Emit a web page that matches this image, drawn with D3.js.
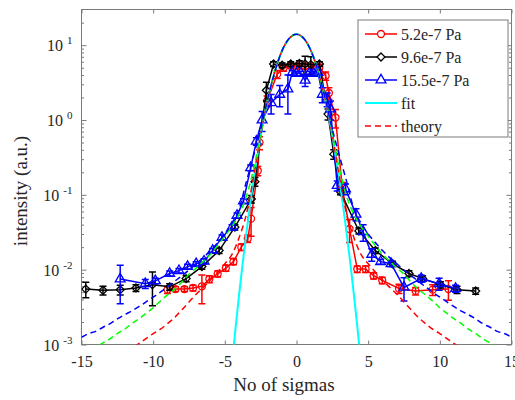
<!DOCTYPE html>
<html>
<head>
<meta charset="utf-8">
<script src="https://cdn.jsdelivr.net/npm/d3@7"></script>
<style>
body { margin: 0; background: #fff; }
svg { display: block; font-family: "Liberation Serif", "Times New Roman", serif; }
</style>
</head>
<body>
<svg id="chart" width="515" height="400"></svg>
<script>
// measured series (x in sigmas, intensity, symmetric error half-width)
const redX = [-9.0,-8.45,-7.82,-7.22,-6.6,-6.08,-5.5,-4.93,-4.4,-3.85,-3.4,-3.17,-2.7,-2.58,-2.05,-1.35,-0.9,-0.4,0.1,0.6,1.1,1.6,2.03,2.26,2.72,3.19,3.7,4.24,4.82,5.38,5.98,7.15,8.31,9.5,10.6]
const redY = [0.0054,0.0055,0.0055,0.0057,0.006,0.0075,0.0088,0.0105,0.0128,0.02,0.026,0.048,0.21,0.5,1.8,4.1,5.0,5.3,5.3,5.2,5.2,5.1,3.9,2.3,1.08,0.126,0.035,0.0102,0.0102,0.0083,0.0072,0.0056,0.0052,0.0054,0.0055]
const redErr = [0.0006,0.0004,0.0004,0.0005,0.0025,0.0008,0.0008,0.001,0.0012,0.002,0.003,0.02,0.03,0.1,0.3,0.5,0.5,0.4,0.4,0.4,0.4,0.4,0.5,0.4,0.3,0.02,0.012,0.001,0.001,0.0008,0.0007,0.0008,0.0006,0.0009,0.0016]

const blackX = [-14.7,-13.5,-12.3,-11.2,-10.05,-8.85,-7.7,-6.6,-5.4,-4.3,-3.15,-2.9,-2.1,-1.6,-1.0,-0.4,0.2,0.6,1.0,1.6,2.2,2.6,3.07,4.35,5.5,6.7,7.85,8.8,10.05,11.2,12.5]
const blackY = [0.0055,0.0053,0.0054,0.0057,0.0063,0.0059,0.0076,0.011,0.018,0.037,0.088,0.15,2.5,5.6,5.4,5.6,5.7,5.6,5.5,5.6,1.2,0.35,0.11,0.033,0.018,0.012,0.0089,0.0076,0.0063,0.0054,0.0052]
const blackErr = [0.0013,0.0007,0.0008,0.0006,0.003,0.0006,0.0007,0.0009,0.0015,0.003,0.01,0.02,0.7,0.4,0.4,0.4,0.5,1.5,1.5,0.4,0.2,0.05,0.01,0.003,0.0015,0.001,0.0008,0.0007,0.0006,0.0006,0.0005]

const blueX = [-12.3,-10.55,-9.85,-8.85,-8.2,-7.6,-7.0,-6.45,-5.85,-5.2,-4.5,-4.15,-3.7,-3.2,-2.8,-2.4,-1.77,-1.17,-0.6,-0.3,0.0,0.3,0.6,0.9,1.2,1.5,1.8,2.14,2.37,2.84,3.42,4.15,4.65,5.25,5.87,6.6,7.5,8.7,9.95,11.1]
const blueY = [0.0075,0.0065,0.0071,0.0089,0.0097,0.011,0.012,0.013,0.018,0.027,0.037,0.053,0.083,0.23,0.52,1.0,1.7,2.2,2.6,4.3,4.2,4.2,3.4,4.2,4.2,4.3,2.2,1.9,1.4,0.133,0.12,0.055,0.032,0.016,0.0128,0.012,0.0058,0.0076,0.0065,0.0056]
const blueErr = [0.004,0.0009,0.0006,0.0007,0.0007,0.0008,0.0008,0.001,0.0012,0.002,0.003,0.004,0.006,0.02,0.06,0.3,0.5,0.7,1.4,0.3,0.3,0.3,0.6,0.3,0.3,0.3,0.5,0.4,0.4,0.02,0.02,0.01,0.008,0.003,0.001,0.001,0.002,0.0008,0.0012,0.0006]

// gaussian fit, read at |x| (curve is symmetric)
const fitAbsX = [0,0.25,0.5,0.75,1,1.25,1.5,1.75,2,2.25,2.5,2.75,3,3.25,3.5,3.75,4,4.25,4.5]
const fitY = [14,13.57,12.36,10.54,8.49,6.42,4.53,3.03,1.89,1.12,0.615,0.317,0.156,0.0713,0.0305,0.0124,0.0047,0.00168,0.00056]

// theory curves, read at |x|
const theoryAbsX = [0,0.5,1,1.5,2,2.5,3,3.5,4,4.5,5,5.5,6,6.5,7,7.5,8,8.5,9,9.5,10,10.5,11,11.5,12,12.5,13,13.5,14,14.5,15]
const theoryRed = [14,12.4,8.5,4.5,1.9,0.63,0.17,0.055,0.027,0.016,0.012,0.0093,0.0073,0.0058,0.0047,0.0037,0.0029,0.0023,0.0019,0.0016,0.0014,0.0012,0.00103,0.0009,0.0008,0.0007,0.00062,0.00055,0.0005,0.00045,0.0004]
const theoryGreen = [14,12.4,8.5,4.5,1.92,0.66,0.22,0.095,0.055,0.038,0.028,0.021,0.016,0.013,0.0105,0.0087,0.0068,0.0055,0.0046,0.0038,0.0031,0.0026,0.0022,0.0019,0.0016,0.0014,0.0012,0.00105,0.00093,0.00083,0.00075]
const theoryBlue = [14,12.4,8.5,4.5,1.95,0.75,0.33,0.15,0.065,0.042,0.03,0.023,0.018,0.0145,0.012,0.0099,0.0083,0.007,0.0059,0.005,0.0043,0.0037,0.0032,0.0028,0.0025,0.0022,0.0019,0.0017,0.0015,0.0014,0.00125]

const xTicks = [-15,-10,-5,0,5,10,15]
const yTicks = [1e-3,1e-2,1e-1,1,10]
const yExps = ["-3","-2","-1","0","1"]
const legendLabels = ["5.2e-7 Pa","9.6e-7 Pa","15.5e-7 Pa","fit","theory"]

const L = 81.5, R = 511.5, T = 9.5, B = 344.5
const axisCol = "#7a7a7a", textCol = "#262626"

let svg = d3.select("#chart")
let x = d3.scaleLinear().domain([-15, 15]).range([L, R])
let y = d3.scaleLog().domain([1e-3, 30]).range([B, T])

svg.append("defs").append("clipPath").attr("id", "clip")
    .append("rect").attr("x", L).attr("y", T).attr("width", R - L).attr("height", B - T)

// minor log ticks
let minor = []
for (let d = -3; d <= 1; d++) for (let k = 2; k <= 9; k++) {
    let v = k * Math.pow(10, d)
    if (v < 30) minor.push(v)
}

const tidy = g => {
    g.select(".domain").remove()
    g.selectAll("line").attr("stroke", axisCol)
    g.selectAll("text").attr("fill", textCol).style("font-size", "16px")
        .style("font-family", '"Liberation Serif", serif')
}

svg.append("g").attr("transform", `translate(0,${B})`)
    .call(d3.axisBottom(x).tickValues(xTicks).tickSize(-4).tickPadding(11).tickFormat(d => String(d)))
    .call(tidy)
svg.append("g").attr("transform", `translate(0,${T})`)
    .call(d3.axisTop(x).tickValues(xTicks).tickSize(-4).tickFormat(""))
    .call(tidy)
svg.append("g").attr("transform", `translate(${L},0)`)
    .call(d3.axisLeft(y).tickValues(yTicks).tickSize(-5).tickFormat(""))
    .call(tidy)
svg.append("g").attr("transform", `translate(${L},0)`)
    .call(d3.axisLeft(y).tickValues(minor).tickSize(-2.5).tickFormat(""))
    .call(tidy)
svg.append("g").attr("transform", `translate(${R},0)`)
    .call(d3.axisRight(y).tickValues(yTicks).tickSize(-5).tickFormat(""))
    .call(tidy)
svg.append("g").attr("transform", `translate(${R},0)`)
    .call(d3.axisRight(y).tickValues(minor).tickSize(-2.5).tickFormat(""))
    .call(tidy)

// frame
svg.append("rect").attr("x", L).attr("y", T).attr("width", R - L).attr("height", B - T)
    .attr("fill", "none").attr("stroke", axisCol)

// y tick labels 10^n
yTicks.forEach((v, i) => {
    let t = svg.append("text").attr("x", L - 9).attr("y", y(v) + 6)
        .attr("text-anchor", "end").attr("fill", textCol).style("font-size", "16px")
    t.append("tspan").text("10")
    t.append("tspan").attr("dx", 4).attr("dy", -7).style("font-size", "11px").text(yExps[i])
})

// axis titles
svg.append("text").attr("x", 284).attr("y", 391).attr("text-anchor", "middle")
    .attr("fill", textCol).style("font-size", "19px").text("No of sigmas")
svg.append("text").attr("transform", "translate(27,191) rotate(-90)").attr("text-anchor", "middle")
    .attr("fill", textCol).style("font-size", "19px").text("intensity (a.u.)")

let plot = svg.append("g").attr("clip-path", "url(#clip)")

const markerPath = {
    circle: d3.symbol(d3.symbolCircle, 38)(),
    diamond: "M0,-4L4,0L0,4L-4,0Z",
    triangle: d3.symbol(d3.symbolTriangle, 42)()
}

const drawSeries = (X, Y, E, color, marker) => {
    let pts = X.map((v, i) => ({ x: v, y: Y[i], e: E[i] }))
    let g = plot.append("g")
    let lo = d => y(Math.max(d.y - d.e, 1e-4))
    let hi = d => y(d.y + d.e)
    g.selectAll(".eb").data(pts).join("line")
        .attr("x1", d => x(d.x)).attr("x2", d => x(d.x))
        .attr("y1", lo).attr("y2", hi)
        .attr("stroke", color).attr("stroke-width", 1.5)
    g.selectAll(".capTop").data(pts).join("line")
        .attr("x1", d => x(d.x) - 3.5).attr("x2", d => x(d.x) + 3.5)
        .attr("y1", hi).attr("y2", hi)
        .attr("stroke", color).attr("stroke-width", 1.5)
    g.selectAll(".capBot").data(pts).join("line")
        .attr("x1", d => x(d.x) - 3.5).attr("x2", d => x(d.x) + 3.5)
        .attr("y1", lo).attr("y2", lo)
        .attr("stroke", color).attr("stroke-width", 1.5)
    g.append("path").datum(pts)
        .attr("d", d3.line().x(d => x(d.x)).y(d => y(d.y)))
        .attr("fill", "none").attr("stroke", color).attr("stroke-width", 1.5)
    g.selectAll(".mk").data(pts).join("path")
        .attr("transform", d => `translate(${x(d.x)},${y(d.y)})`)
        .attr("d", markerPath[marker])
        .attr("fill", "none").attr("stroke", color).attr("stroke-width", 1.3)
}

drawSeries(redX, redY, redErr, "#ff0000", "circle")
drawSeries(blackX, blackY, blackErr, "#000000", "diamond")
drawSeries(blueX, blueY, blueErr, "#0000ff", "triangle")

// symmetric curves from |x| readings
const mirror = (absX, vals) => {
    let left = absX.slice(1).map((v, i) => [-v, vals[i + 1]]).reverse()
    let right = absX.map((v, i) => [v, vals[i]])
    return left.concat(right)
}

let curve = d3.line().x(d => x(d[0])).y(d => y(Math.max(d[1], 1e-5))).curve(d3.curveMonotoneX)

plot.append("path").datum(mirror(fitAbsX, fitY))
    .attr("d", curve).attr("fill", "none").attr("stroke", "#00ffff").attr("stroke-width", 2)

const theory = [[theoryRed, "#ff0000"], [theoryGreen, "#00ff00"], [theoryBlue, "#0000ff"]]
theory.forEach(([vals, col]) => {
    plot.append("path").datum(mirror(theoryAbsX, vals))
        .attr("d", curve).attr("fill", "none").attr("stroke", col)
        .attr("stroke-width", 1.5).attr("stroke-dasharray", "6,4")
})

// legend
let leg = svg.append("g")
leg.append("rect").attr("x", 358).attr("y", 20).attr("width", 150).attr("height", 117)
    .attr("fill", "#fff").attr("stroke", axisCol)
const legStyle = [
    { col: "#ff0000", mk: "circle", dash: null },
    { col: "#000000", mk: "diamond", dash: null },
    { col: "#0000ff", mk: "triangle", dash: null },
    { col: "#00ffff", mk: null, dash: null },
    { col: "#ff0000", mk: null, dash: "6,4" }
]
legendLabels.forEach((lab, i) => {
    let cy = 34 + i * 23
    let s = legStyle[i]
    leg.append("line").attr("x1", 365).attr("x2", 397).attr("y1", cy).attr("y2", cy)
        .attr("stroke", s.col).attr("stroke-width", i == 3 ? 2 : 1.5)
        .attr("stroke-dasharray", s.dash)
    if (s.mk) leg.append("path").attr("transform", `translate(381,${cy})`)
        .attr("d", markerPath[s.mk]).attr("fill", "#fff").attr("stroke", s.col).attr("stroke-width", 1.3)
    leg.append("text").attr("x", 401).attr("y", cy + 5.5).attr("fill", textCol)
        .style("font-size", "16px").text(lab)
})
</script>
</body>
</html>
